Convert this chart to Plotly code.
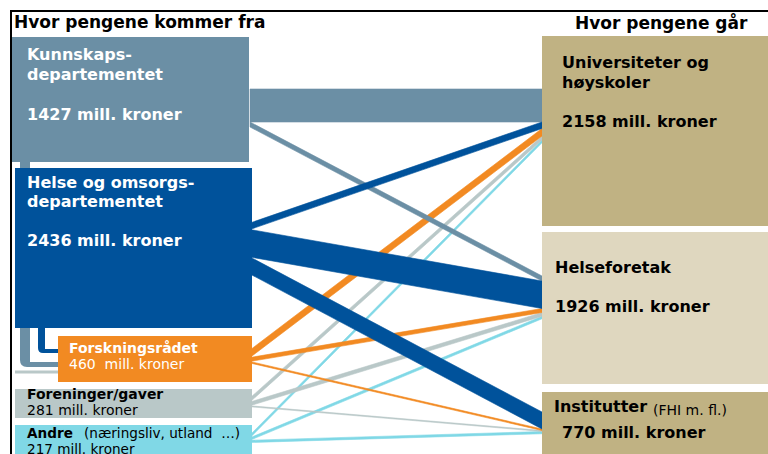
import plotly.graph_objects as go

# ---------------- data ----------------
sources = ["Kunnskapsdepartementet", "Helse og omsorgsdepartementet",
           "Forskningsrådet", "Foreninger/gaver", "Andre"]
source_totals = [1427, 2436, 460, 281, 217]
targets = ["Universiteter og høyskoler", "Helseforetak", "Institutter"]
target_totals = [2158, 1926, 770]

# flows (mill. kroner, estimated from band widths)
flow_src = [0, 0, 1, 1, 1, 2, 2, 2, 3, 3, 3, 4, 4, 4]
flow_tgt = [0, 1, 0, 1, 2, 0, 1, 2, 0, 1, 2, 0, 1, 2]
flow_val = [1320, 200, 260, 1100, 680, 300, 160, 60, 160, 150, 40, 110, 100, 90]

# ---------------- layout / style ----------------
W, H = 768, 454
FONT = "DejaVu Sans"
PX_PER_MILL = 1 / 40.0

src_colors = ["#6B8FA5", "#00529B", "#F28A22", "#B9C8C8", "#80D8E6"]
tgt_colors = ["#C0B283", "#DFD7BF", "#C0B283"]

# box geometry (x0, x1, y0, y1) in pixel coordinates
src_boxes = [(12, 249, 37, 162), (15, 252, 168, 328), (58, 252, 336, 382),
             (15, 252, 389, 418), (15, 252, 425, 460)]
tgt_boxes = [(542, 770, 36, 226), (542, 770, 232, 384), (542, 770, 392, 460)]
src_anchor = [89, 223, 350, 398, 435]
tgt_anchor = [89, 276, 412]
X_LEFT, X_RIGHT = 250, 542

fig = go.Figure()

# compute stacked endpoints (source side: by target; target side: by source)
src_off = list(src_anchor)
tgt_off = list(tgt_anchor)
ends = {}
for s in range(len(sources)):
    for i in range(len(flow_val)):
        if flow_src[i] == s:
            w = flow_val[i] * PX_PER_MILL
            ends.setdefault(i, {})["s"] = (src_off[s], src_off[s] + w)
            src_off[s] += w
for t in range(len(targets)):
    for s in range(len(sources)):
        for i in range(len(flow_val)):
            if flow_src[i] == s and flow_tgt[i] == t:
                w = flow_val[i] * PX_PER_MILL
                ends[i]["t"] = (tgt_off[t], tgt_off[t] + w)
                tgt_off[t] += w

draw_order = [4, 3, 2, 0, 1]
for s in draw_order:
    for i in range(len(flow_val)):
        if flow_src[i] != s:
            continue
        (a0, a1), (b0, b1) = ends[i]["s"], ends[i]["t"]
        fig.add_trace(go.Scatter(
            x=[X_LEFT, X_LEFT, X_RIGHT, X_RIGHT, X_LEFT],
            y=[a0, a1, b1, b0, a0],
            mode="lines", fill="toself",
            fillcolor=src_colors[s],
            line=dict(width=0.6, color=src_colors[s]),
            hoverinfo="skip", showlegend=False))

shapes = []
# connector shapes on the left
shapes.append(dict(type="path", xref="x", yref="y", layer="above",
                   path="M20,160 L30,160 L30,362 L58,362 L58,367 L27,367 Q20,367 20,360 Z",
                   fillcolor="#6B8FA5", line=dict(width=0)))
shapes.append(dict(type="path", xref="x", yref="y", layer="above",
                   path="M38,326 L45,326 L45,349 L58,349 L58,353 L43,353 Q38,353 38,348 Z",
                   fillcolor="#00529B", line=dict(width=0)))
shapes.append(dict(type="rect", xref="x", yref="y", layer="above",
                   x0=15, x1=58, y0=370.5, y1=373.5,
                   fillcolor="#B9C8C8", line=dict(width=0)))
for (x0, x1, y0, y1), c in zip(src_boxes, src_colors):
    shapes.append(dict(type="rect", xref="x", yref="y", layer="above",
                       x0=x0, x1=x1, y0=y0, y1=y1, fillcolor=c, line=dict(width=0)))
for (x0, x1, y0, y1), c in zip(tgt_boxes, tgt_colors):
    shapes.append(dict(type="rect", xref="x", yref="y", layer="above",
                       x0=x0, x1=x1, y0=y0, y1=y1, fillcolor=c, line=dict(width=0)))
# frame
shapes.append(dict(type="line", xref="x", yref="y", layer="above",
                   x0=10, x1=770, y0=11, y1=11, line=dict(color="black", width=2)))
shapes.append(dict(type="line", xref="x", yref="y", layer="above",
                   x0=11, x1=11, y0=10, y1=460, line=dict(color="black", width=2)))

annotations = []


def txt(x, baseline, text, size, color="black", bold=False, anchor="left"):
    if bold:
        text = "<b>" + text + "</b>"
    annotations.append(dict(
        x=x, y=baseline - 0.346 * size, xref="x", yref="y",
        text=text, showarrow=False, xanchor=anchor, yanchor="middle",
        borderpad=0, font=dict(family=FONT, size=size, color=color)))


def mill(v):
    return f"{v} mill. kroner"


txt(13, 28, "Hvor pengene kommer fra", 17, bold=True)
txt(749, 28, "Hvor pengene går", 17, bold=True, anchor="right")

# sources
txt(26, 60, "Kunnskaps-", 16, "white", True)
txt(26, 80, "departementet", 16, "white", True)
txt(26, 120, mill(source_totals[0]), 16, "white", True)

txt(26, 188, "Helse og omsorgs-", 16, "white", True)
txt(26, 207, "departementet", 16, "white", True)
txt(26, 246, mill(source_totals[1]), 16, "white", True)

txt(68, 353, sources[2], 14, "white", True)
txt(68, 369, f"{source_totals[2]}  mill. kroner", 14, "white")

txt(26, 399, sources[3], 14, bold=True)
txt(26, 415, mill(source_totals[3]), 14)

txt(26, 437.5, sources[4], 13.6, bold=True)
txt(83, 437.5, "(næringsliv, utland  …)", 13.6)
txt(26, 453.5, mill(source_totals[4]), 13.6)

# targets
txt(561, 68, "Universiteter og", 16, bold=True)
txt(561, 88, "høyskoler", 16, bold=True)
txt(561, 127, mill(target_totals[0]), 16, bold=True)

txt(554, 273, targets[1], 16, bold=True)
txt(554, 312, mill(target_totals[1]), 16, bold=True)

txt(553, 412, targets[2], 16, bold=True)
txt(652, 415, "(FHI m. fl.)", 14)
txt(561, 438, mill(target_totals[2]), 16, bold=True)

fig.update_layout(
    width=W, height=H, autosize=False,
    margin=dict(l=0, r=0, t=0, b=0),
    paper_bgcolor="white", plot_bgcolor="white",
    xaxis=dict(range=[0, W], visible=False, fixedrange=True),
    yaxis=dict(range=[H, 0], visible=False, fixedrange=True),
    shapes=shapes, annotations=annotations, showlegend=False)

fig.write_html("out.html", config={"displayModeBar": False},
               post_script="document.body.style.margin='0px';document.body.style.overflow='hidden';")
